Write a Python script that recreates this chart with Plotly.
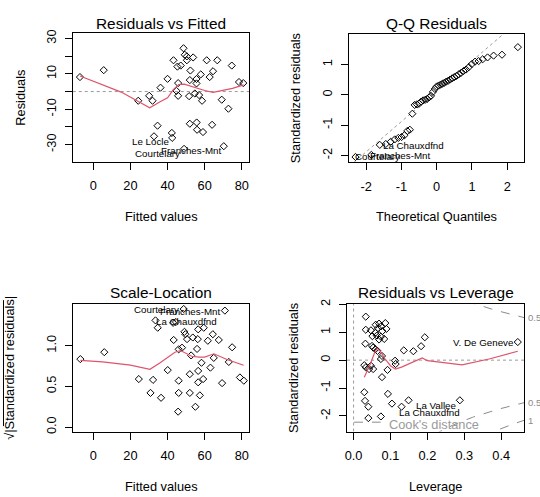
import numpy as np
import plotly.graph_objects as go

W, H = 540, 497
FONT = "Liberation Sans, Arial, Helvetica, sans-serif"
RED = "#DF536B"
GRAY = "#9A9A9A"
FS = 12.8

# ---------------- Residuals vs Fitted ----------------
rvf_fitted = [-7.2, 5.6, 24.2, 30.1, 31.9, 34.6, 32.7, 36.2, 40.0, 42.3, 42.5, 43.2, 45.3, 47.1,
              44.8, 45.7, 45.7, 48.6, 49.3, 50.4, 50.4, 48.9, 51.6, 52.0, 52.3, 52.0, 53.8, 54.7,
              55.6, 55.6, 55.7, 55.9, 57.0, 57.9, 58.6, 59.1, 61.1, 62.7, 64.5, 64.0, 66.8, 69.2,
              70.3, 72.8, 74.6, 78.5, 80.8]
rvf_resid = [8.2, 12.1, -5.2, -2.4, -5.2, -19.3, -25.3, 2.2, 7.2, -23.4, -26.2, 17.7, 14.1, 14.7,
             0.4, -2.4, 4.8, 24.5, 20.8, 19.9, 17.7, -32.4, -2.6, 6.5, 11.9, -18.2, 19.3, -1.1,
             7.1, 4.6, -17.5, -21.6, -2.0, 9.7, -5.2, -22.9, 17.7, 8.2, 11.5, -18.8, 17.7, -4.6,
             -30.9, -9.7, 14.7, 5.4, 4.8]
rvf_smooth_x = [-7.2, 5, 15, 24, 30.4, 36, 40, 43, 46, 49, 52, 56, 60, 64.5, 69, 75, 81]
rvf_smooth_y = [8.8, 4.0, -0.3, -5.5, -9.2, -5.8, -3.5, 1.0, 4.0, 4.2, 3.2, 1.6, 0.6, -0.4, 0.7, 1.8, 3.8]
rvf_labels = [("Le Locle", 30.9, -28.1), ("Courtelary", 34.7, -35.0), ("Franches-Mnt", 52.6, -33.1)]

# ---------------- Q-Q Residuals ----------------
qq_theoretical = [-2.303, -1.853, -1.614, -1.443, -1.306, -1.190, -1.088, -0.996, -0.912, -0.834,
                  -0.761, -0.691, -0.625, -0.561, -0.500, -0.441, -0.383, -0.326, -0.270, -0.215,
                  -0.161, -0.107, -0.053, 0.0, 0.053, 0.107, 0.161, 0.215, 0.270, 0.326, 0.383,
                  0.441, 0.500, 0.561, 0.625, 0.691, 0.761, 0.834, 0.912, 0.996, 1.088, 1.190,
                  1.306, 1.443, 1.614, 1.853, 2.303]
qq_std_resid = [-2.05, -1.98, -1.65, -1.62, -1.55, -1.47, -1.42, -1.39, -1.33, -1.19, -1.15, -0.62,
                -0.33, -0.31, -0.29, -0.22, -0.18, -0.16, -0.13, -0.08, -0.03, 0.10, 0.20, 0.28,
                0.31, 0.34, 0.37, 0.40, 0.44, 0.47, 0.51, 0.55, 0.59, 0.63, 0.68, 0.73, 0.79,
                0.84, 0.92, 1.02, 1.10, 1.12, 1.18, 1.24, 1.30, 1.33, 1.58]
qq_line_intercept = 0.12
qq_line_slope = 1.0
qq_labels = [("La Chauxdfnd", -0.67, -1.68), ("Franches-Mnt", -1.05, -2.01), ("Courtelary", -1.68, -2.04)]

# ---------------- Scale-Location ----------------
sl_fitted = [-7.0, 5.9, 24.5, 30.8, 32.2, 33.5, 34.7, 36.5, 40.1, 43.0, 43.3, 45.7, 46.0, 46.0,
             46.0, 47.8, 48.7, 49.1, 49.6, 50.5, 52.0, 52.0, 52.7, 53.6, 55.0, 55.9, 56.3, 56.5,
             56.5, 56.5, 57.4, 58.3, 59.2, 59.5, 61.7, 63.1, 64.4, 64.9, 67.6, 69.4, 70.9, 73.0,
             74.8, 79.0, 81.1, 44.5]
sl_sqrt_std = [0.835, 0.92, 0.59, 0.42, 0.58, 1.31, 1.22, 0.36, 0.70, 1.28, 1.07, 0.19, 0.57, 0.42,
               0.955, 0.975, 1.45, 1.17, 1.14, 1.08, 0.42, 0.65, 0.88, 1.10, 0.25, 0.96, 1.08, 1.20,
               0.55, 0.69, 0.39, 0.79, 0.59, 1.22, 1.06, 0.73, 1.14, 0.85, 1.07, 0.54, 1.43, 0.80,
               0.98, 0.61, 0.57, 1.29]
sl_smooth_x = [-7, 5, 20, 30.5, 36, 40, 44, 47, 50, 53, 57, 60, 65, 72, 81]
sl_smooth_y = [0.82, 0.80, 0.76, 0.71, 0.79, 0.86, 0.92, 0.94, 0.90, 0.87, 0.86, 0.86, 0.90, 0.83, 0.76]
sl_labels = [("Courtelary", 34.3, 1.447), ("Franches-Mnt", 52.0, 1.42), ("La Chauxdfnd", 50.4, 1.30)]

# ---------------- Residuals vs Leverage ----------------
lev_vals = [0.033, 0.033, 0.047, 0.060, 0.069, 0.074, 0.086, 0.089, 0.078, 0.059, 0.063, 0.074,
            0.069, 0.083, 0.051, 0.066,
            0.032, 0.050, 0.053, 0.059, 0.065, 0.074, 0.077,
            0.029, 0.033, 0.047, 0.053, 0.042,
            0.077, 0.092, 0.1125, 0.114, 0.136, 0.162, 0.183, 0.193, 0.445,
            0.029, 0.031, 0.040, 0.040, 0.074, 0.093, 0.104, 0.130, 0.149, 0.288]
lev_std_resid = [1.56, 1.09, 1.07, 1.27, 1.31, 1.21, 1.33, 1.12, 1.04, 0.98, 0.88, 0.84,
                 0.74, 0.76, 0.86, 1.15,
                 0.59, 0.51, 0.45, 0.39, 0.33, 0.04, 0.15,
                 -0.18, -0.26, -0.20, -0.32, -0.32,
                 -0.61, -0.35, -0.02, -0.14, 0.35, 0.32, 0.50, 0.82, 0.65,
                 -1.15, -1.46, -1.67, -2.08, -2.02, -1.21, -1.56, -1.67, -1.44, -1.44]
lev_smooth_x = [0.029, 0.045, 0.058, 0.064, 0.072, 0.085, 0.100, 0.113, 0.130, 0.150, 0.170,
                0.186, 0.200, 0.240, 0.294, 0.370, 0.445]
lev_smooth_y = [-0.61, -0.15, 0.30, 0.42, 0.32, 0.05, -0.20, -0.32, -0.25, -0.14, -0.02,
                0.08, -0.02, -0.08, -0.17, 0.05, 0.32]
lev_labels = [("V. De Geneve", 0.351, 0.645), ("La Vallee", 0.222, -1.61), ("La Chauxdfnd", 0.206, -1.87)]
n_params = 4
cook_levels = [0.5, 1.0]

# ---------------- layout geometry (pixels) ----------------
panels = {
    1: dict(x=(71, 248.3), y=(28.5, 159.5), xr=[-11.1, 84.1], yr=[-39.8, 33.1]),
    2: dict(x=(348.3, 524.3), y=(29, 160), xr=[-2.487, 2.487], yr=[-2.23, 2.03]),
    3: dict(x=(71, 248.3), y=(304, 433.5), xr=[-11.1, 84.1], yr=[-0.054, 1.51]),
    4: dict(x=(346.3, 524.3), y=(304, 433.5), xr=[-0.0178, 0.4628], yr=[-2.56, 2.01]),
}


def px(x, y):
    return x / W, 1 - y / H


fig = go.Figure()

marker = dict(symbol="diamond-open", size=5.5, color="black", line=dict(width=1, color="black"))


def ax(n):
    return ("x" if n == 1 else f"x{n}"), ("y" if n == 1 else f"y{n}")


def add_line(n, xs, ys, color, dash="solid", width=1):
    xa, ya = ax(n)
    fig.add_trace(go.Scatter(x=xs, y=ys, mode="lines", xaxis=xa, yaxis=ya,
                             line=dict(color=color, dash=dash, width=width),
                             hoverinfo="skip", showlegend=False))


def add_points(n, xs, ys):
    xa, ya = ax(n)
    fig.add_trace(go.Scatter(x=xs, y=ys, mode="markers", xaxis=xa, yaxis=ya,
                             marker=marker, showlegend=False))


# Panel 1
add_line(1, panels[1]["xr"], [0, 0], GRAY, "dot")
add_points(1, rvf_fitted, rvf_resid)
add_line(1, rvf_smooth_x, rvf_smooth_y, RED, width=1.2)

# Panel 2
qx = np.array(panels[2]["xr"])
add_line(2, qx, qq_line_intercept + qq_line_slope * qx, GRAY, "dot")
add_points(2, qq_theoretical, qq_std_resid)

# Panel 3
add_points(3, sl_fitted, sl_sqrt_std)
add_line(3, sl_smooth_x, sl_smooth_y, RED, width=1.2)

# Panel 4
add_line(4, panels[4]["xr"], [0, 0], GRAY, "dot")
add_line(4, [0, 0], panels[4]["yr"], GRAY, "dot")
hh = np.linspace(0.005, panels[4]["xr"][1], 200)
for lvl in cook_levels:
    cl = np.sqrt(lvl * n_params * (1 - hh) / hh)
    add_line(4, hh, cl, "#8A8A8A", "dash")
    add_line(4, hh, -cl, "#8A8A8A", "dash")
add_points(4, lev_vals, lev_std_resid)
add_line(4, lev_smooth_x, lev_smooth_y, RED, width=1.2)

annotations = []
shapes = []

tick_spec = {
    1: dict(xt=[0, 20, 40, 60, 80], xl=["0", "20", "40", "60", "80"],
            yt=[-30, -20, -10, 0, 10, 20, 30], yl=["-30", "", "-10", "", "10", "", "30"]),
    2: dict(xt=[-2, -1, 0, 1, 2], xl=["-2", "-1", "0", "1", "2"],
            yt=[-2, -1, 0, 1], yl=["-2", "-1", "0", "1"]),
    3: dict(xt=[0, 20, 40, 60, 80], xl=["0", "20", "40", "60", "80"],
            yt=[0, 0.5, 1.0], yl=["0.0", "0.5", "1.0"]),
    4: dict(xt=[0, 0.1, 0.2, 0.3, 0.4], xl=["0.0", "0.1", "0.2", "0.3", "0.4"],
            yt=[-2, -1, 0, 1, 2], yl=["-2", "-1", "0", "1", "2"]),
}

layout_axes = {}
for n, p in panels.items():
    x0, _ = px(p["x"][0], 0)
    x1, _ = px(p["x"][1], 0)
    _, y1 = px(0, p["y"][0])
    _, y0 = px(0, p["y"][1])
    xa, ya = ax(n)
    common = dict(showline=True, mirror=True, linecolor="black", linewidth=1,
                  ticks="outside", ticklen=7, tickcolor="black", tickwidth=1,
                  showgrid=False, zeroline=False, fixedrange=True,
                  tickfont=dict(family=FONT, size=FS, color="black"))
    layout_axes["xaxis" if n == 1 else f"xaxis{n}"] = dict(
        domain=[x0, x1], range=p["xr"], anchor=ya, tickvals=tick_spec[n]["xt"],
        ticktext=tick_spec[n]["xl"], ticklabelstandoff=5, **common)
    layout_axes["yaxis" if n == 1 else f"yaxis{n}"] = dict(
        domain=[y0, y1], range=p["yr"], anchor=xa, tickvals=tick_spec[n]["yt"],
        ticktext=tick_spec[n]["yl"], tickangle=-90, ticklabelstandoff=4, **common)


def text_px(x, y, s, size=FS, angle=0, color="black", xanchor="center"):
    ax_, ay_ = px(x, y)
    annotations.append(dict(x=ax_, y=ay_, xref="paper", yref="paper", text=s, showarrow=False,
                            textangle=angle, xanchor=xanchor, yanchor="middle",
                            font=dict(family=FONT, size=size, color=color)))


# titles
TS = 15.4
text_px(159.7, 18.3, "Residuals vs Fitted", TS)
text_px(436.3, 18.3, "Q-Q Residuals", TS)
text_px(159.7, 292.5, "Scale-Location", TS)
text_px(435.3, 292.5, "Residuals vs Leverage", TS)
# x titles
text_px(159.7, 215, "Fitted values")
text_px(436.3, 215, "Theoretical Quantiles")
text_px(159.7, 489, "Fitted values")
text_px(435.3, 489, "Leverage")
# y titles
text_px(18.3, 94, "Residuals", angle=-90)
text_px(295.3, 94.5, "Standardized residuals", angle=-90)
text_px(8, 368.7, "√|Standardized residuals|", angle=-90)
text_px(293.3, 368.7, "Standardized residuals", angle=-90)


def text_data(n, x, y, s, size=9.75, color="black", xanchor="center"):
    xa, ya = ax(n)
    annotations.append(dict(x=x, y=y, xref=xa, yref=ya, text=s, showarrow=False,
                            xanchor=xanchor, yanchor="middle",
                            font=dict(family=FONT, size=size, color=color)))


for s, x, y in rvf_labels:
    text_data(1, x, y, s)
for s, x, y in qq_labels:
    text_data(2, x, y, s)
for s, x, y in sl_labels:
    text_data(3, x, y, s)
for s, x, y in lev_labels:
    text_data(4, x, y, s)

# Cook's distance level labels on right of panel 4
xmax = panels[4]["xr"][1]
ymult = np.sqrt(n_params * (1 - xmax) / xmax)
for lvl in cook_levels:
    aty = np.sqrt(lvl) * ymult
    for sgn in (1, -1):
        yv = sgn * aty
        if panels[4]["yr"][0] <= yv <= panels[4]["yr"][1]:
            annotations.append(dict(x=1.01, y=yv, xref="x4 domain", yref="y4", text=f"{lvl:g}",
                                    showarrow=False, xanchor="left", yanchor="middle",
                                    font=dict(family=FONT, size=9.5, color="#8A8A8A")))

# Cook's distance legend
lx0, ly = px(353.3, 424)
lx1, _ = px(380, 424)
shapes.append(dict(type="line", xref="paper", yref="paper", x0=lx0, x1=lx1, y0=ly, y1=ly,
                   line=dict(color="#8A8A8A", dash="dash", width=1)))
text_px(386.7, 426, "Cook's distance", FS, color="#9A9A9A", xanchor="left")

# overline of the sqrt in panel 3 y label
ox, oy0 = px(1.5, 300)
_, oy1 = px(1.5, 428)
shapes.append(dict(type="line", xref="paper", yref="paper", x0=ox, x1=ox, y0=oy0, y1=oy1,
                   line=dict(color="black", width=1)))

fig.update_layout(width=W, height=H, margin=dict(l=0, r=0, t=0, b=0),
                  paper_bgcolor="white", plot_bgcolor="white", showlegend=False,
                  annotations=annotations, shapes=shapes, **layout_axes)

fig.write_html("out.html")
